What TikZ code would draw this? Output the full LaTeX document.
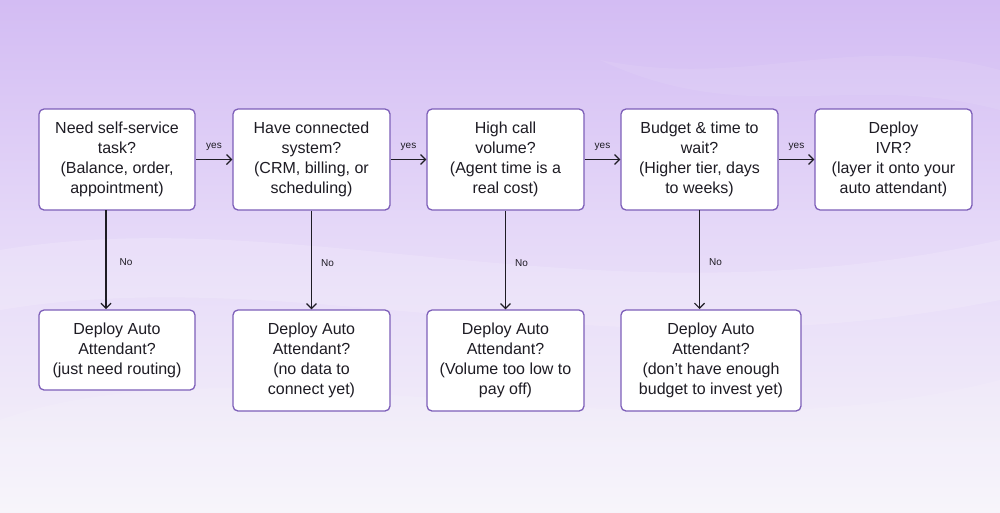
\documentclass[tikz,border=0pt]{standalone}
\usepackage{fontspec}
\setmainfont{Liberation Sans}
\usetikzlibrary{arrows.meta}
\definecolor{bgtop}{RGB}{211,188,243}
\definecolor{bgmid}{RGB}{229,216,248}
\definecolor{bgbot}{RGB}{246,244,250}
\definecolor{boxline}{RGB}{125,95,185}
\definecolor{ink}{RGB}{30,28,36}
\tikzset{
  box/.style={draw=boxline, line width=1.3pt, fill=white, rounded corners=5pt,
    align=center, inner sep=0pt, text=ink, font=\fontsize{16}{20}\selectfont},
  conn/.style={draw=ink, line width=1.4pt, -{Straight Barb[length=5pt,width=10pt,line width=1.2pt]}},
  lbl/.style={font=\fontsize{10}{11}\selectfont, text=ink, inner sep=1pt}
}
\begin{document}
\begin{tikzpicture}[x=1pt,y=-1pt]
\useasboundingbox (0,0) rectangle (1000,512);
\shade[top color=bgtop, bottom color=bgmid] (0,0) rectangle (1000,230);
\shade[top color=bgmid, bottom color=bgbot] (0,230) rectangle (1000,512);
% faint waves
\fill[white, opacity=0.16] (0,250) .. controls (300,200) and (600,330) .. (1000,240) -- (1000,300) .. controls (600,380) and (300,260) .. (0,310) -- cycle;
\fill[white, opacity=0.12] (0,420) .. controls (250,330) and (650,470) .. (1000,380) -- (1000,512) -- (0,512) -- cycle;
\fill[white, opacity=0.08] (600,60) .. controls (750,90) and (850,30) .. (1000,70) -- (1000,110) .. controls (850,70) and (750,130) .. (600,60) -- cycle;

% top row
\node[box, minimum width=156pt, minimum height=101pt] (q1) at (117,159.5) {Need self-service\\task?\\(Balance, order,\\appointment)};
\node[box, minimum width=157pt, minimum height=101pt] (q2) at (311.5,159.5) {Have connected\\system?\\(CRM, billing, or\\scheduling)};
\node[box, minimum width=157pt, minimum height=101pt] (q3) at (505.5,159.5) {High call\\volume?\\(Agent time is a\\real cost)};
\node[box, minimum width=157pt, minimum height=101pt] (q4) at (699.5,159.5) {Budget \& time to\\wait?\\(Higher tier, days\\to weeks)};
\node[box, minimum width=157pt, minimum height=101pt] (q5) at (893.5,159.5) {Deploy\\IVR?\\(layer it onto your\\auto attendant)};

% bottom row
\node[box, minimum width=156pt, minimum height=80pt] (a1) at (117,350) {Deploy Auto\\Attendant?\\(just need routing)};
\node[box, minimum width=157pt, minimum height=101pt] (a2) at (311.5,360.5) {Deploy Auto\\Attendant?\\(no data to\\connect yet)};
\node[box, minimum width=157pt, minimum height=101pt] (a3) at (505.5,360.5) {Deploy Auto\\Attendant?\\(Volume too low to\\pay off)};
\node[box, minimum width=180pt, minimum height=101pt] (a4) at (711,360.5) {Deploy Auto\\Attendant?\\(don't have enough\\budget to invest yet)};

% yes connectors
\foreach \s/\t in {q1/q2,q2/q3,q3/q4,q4/q5}{
  \draw[conn] (\s.east) -- node[lbl, above=7pt] {yes} (\t.west);
}
% no connectors
\coordinate (n1s) at (106,210);
\coordinate (n1e) at (106,309);
\draw[conn] (n1s) -- node[lbl, right=12pt, yshift=-3pt] {No} (n1e);
\draw[conn] (q2.south) -- node[lbl, right=8pt, yshift=-3pt] {No} (a2.north);
\draw[conn] (q3.south) -- node[lbl, right=8pt, yshift=-3pt] {No} (a3.north);
\coordinate (n4s) at (699.5,210);
\coordinate (n4e) at (699.5,309);
\draw[conn] (n4s) -- node[lbl, right=8pt, yshift=-3pt] {No} (n4e);
\end{tikzpicture}
\end{document}
